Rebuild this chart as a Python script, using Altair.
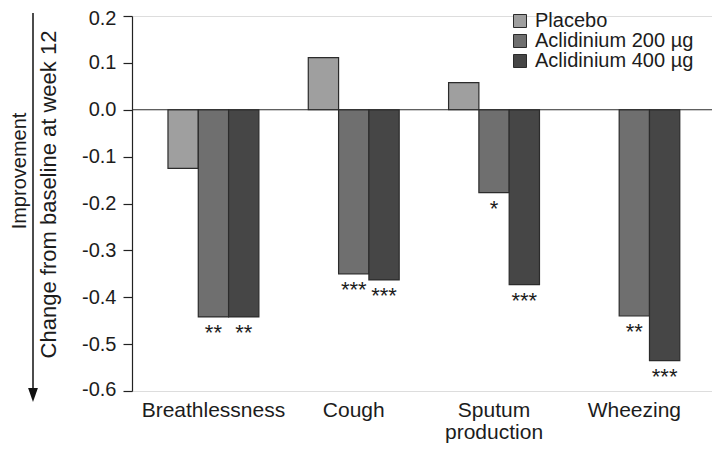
import altair as alt
import pandas as pd

categories = ["Breathlessness", "Cough", "Sputum production", "Wheezing"]
series = ["Placebo", "Aclidinium 200 µg", "Aclidinium 400 µg"]
placebo = [-0.125, 0.111, 0.058, None]
acl200 = [-0.442, -0.350, -0.177, -0.440]
acl400 = [-0.442, -0.363, -0.373, -0.535]
sig200 = ["**", "***", "*", "**"]
sig400 = ["**", "***", "***", "***"]
yticks = [0.2, 0.1, 0.0, -0.1, -0.2, -0.3, -0.4, -0.5, -0.6]
colors = ["#9f9f9f", "#6f6f6f", "#464646"]

FONT = "Liberation Sans"
TXT = "#1c1c1c"

rows = []
for i, c in enumerate(categories):
    for s, vals in zip(series, [placebo, acl200, acl400]):
        rows.append({"category": c, "series": s, "value": vals[i]})
df = pd.DataFrame(rows)

sig_rows = []
for i, c in enumerate(categories):
    sig_rows.append({"category": c, "series": series[1], "value": acl200[i], "sig": sig200[i]})
    sig_rows.append({"category": c, "series": series[2], "value": acl400[i], "sig": sig400[i]})
sig_df = pd.DataFrame(sig_rows)

x_enc = alt.X(
    "category:N",
    sort=categories,
    scale=alt.Scale(domain=categories, paddingInner=0, paddingOuter=0.067, align=0.6),
    axis=alt.Axis(
        title=None, domain=False, ticks=False, labelAngle=0, labelPadding=8,
        labelFont=FONT, labelFontSize=21, labelColor=TXT, labelLineHeight=22,
        labelBaseline="top",
        labelExpr="datum.value == 'Sputum production' ? ['Sputum', 'production'] : "
                  "(datum.value == 'Wheezing' ? '\u00a0\u00a0\u00a0\u00a0\u00a0Wheezing' : datum.value)",
    ),
)
xoff_enc = alt.XOffset(
    "series:N", sort=series,
    scale=alt.Scale(domain=series, paddingInner=0, paddingOuter=0.815),
)
y_scale = alt.Scale(domain=[-0.6, 0.2], nice=False)

bars = alt.Chart(df).mark_bar(stroke="#2b2b2b", strokeWidth=1.2).encode(
    x=x_enc,
    xOffset=xoff_enc,
    y=alt.Y(
        "value:Q",
        scale=y_scale,
        axis=alt.Axis(
            values=yticks, grid=False, domainColor="#222", tickColor="#222",
            domainWidth=1.2, tickWidth=1.2, tickSize=9, labelPadding=7,
            labelFont=FONT, labelFontSize=20, labelColor=TXT,
            labelFlush=True, labelFlushOffset=8,
            labelExpr="replace(format(datum.value, '.1f'), '\u2212', '-')",
            title="Change from baseline at week 12", titleFont=FONT, titleFontSize=22,
            titleFontWeight="normal", titleColor=TXT, titleAngle=270,
            titleX=-84, titleY=178, titleAlign="center", titleBaseline="middle",
        ),
    ),
    color=alt.Color(
        "series:N",
        scale=alt.Scale(domain=series, range=colors),
        legend=alt.Legend(
            title=None, orient="none", legendX=378, legendY=-5, padding=0,
            labelFont=FONT, labelFontSize=20, labelColor=TXT, labelOffset=5,
            labelLimit=0,
            symbolType="square", symbolSize=169, symbolStrokeColor="#2b2b2b",
            symbolStrokeWidth=1, symbolOpacity=1, rowPadding=-8,
        ),
    ),
)

sig = alt.Chart(sig_df).mark_text(
    baseline="top", dy=6, fontSize=22, font=FONT, color=TXT
).encode(
    x=alt.X("category:N", sort=categories),
    xOffset=alt.XOffset("series:N", sort=series),
    y=alt.Y("value:Q"),
    text="sig:N",
)

zero = alt.Chart(pd.DataFrame({"zero": [0.0]})).mark_rule(
    color="#2b2b2b", strokeWidth=1.2
).encode(y="zero:Q")

one = pd.DataFrame({"k": [0]})
improvement = alt.Chart(one).mark_text(
    text="Improvement", angle=270, fontSize=20, font=FONT, color=TXT,
    align="center", baseline="middle",
).encode(x=alt.value(-112), y=alt.value(155))

arrow_line = alt.Chart(one).mark_rule(color="#111", strokeWidth=1.5).encode(
    x=alt.value(-99), y=alt.value(-3), y2=alt.value(374)
)
arrow_head = alt.Chart(one).mark_point(
    shape="M-0.7,-1L0.7,-1L0,1Z", filled=True, size=196, color="#111", opacity=1
).encode(x=alt.value(-99), y=alt.value(379))

chart = alt.layer(bars, zero, sig, improvement, arrow_line, arrow_head).properties(
    width=580, height=375,
    autosize=alt.AutoSizeParams(type="none"),
    padding={"left": 124, "top": 8, "right": 0, "bottom": 52},
).configure_view(stroke=None).configure(background="white")

chart.save("out.html", embed_options={"renderer": "svg", "actions": False})
